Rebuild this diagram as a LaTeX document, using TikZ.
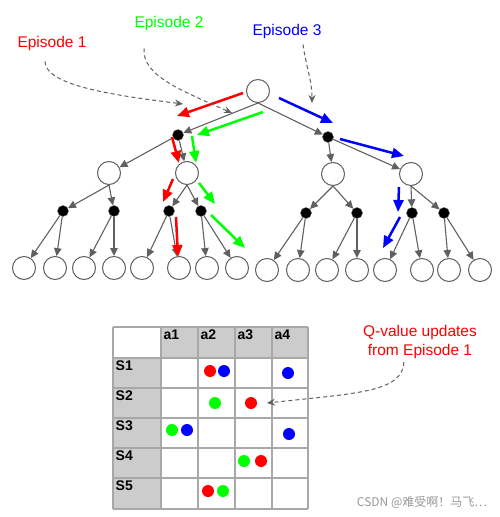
\documentclass[tikz,border=0pt]{standalone}
\usepackage{fontspec}
\setmainfont{Liberation Sans}
\newfontfamily\cjk{Noto Sans CJK SC}
\usetikzlibrary{arrows.meta}
\definecolor{edgegray}{HTML}{606060}
\definecolor{cellgray}{HTML}{CCCCCC}
\definecolor{gridgray}{HTML}{A8A8A8}
\definecolor{epred}{HTML}{FF0000}
\definecolor{epgreen}{HTML}{00FF00}
\definecolor{epblue}{HTML}{0000FF}

\begin{document}
\begin{tikzpicture}[x=1pt,y=-1pt,
    st/.style={circle,draw=edgegray,line width=1pt,fill=white,minimum size=23pt,inner sep=0pt},
    ac/.style={circle,draw=edgegray,fill=black,minimum size=11pt,inner sep=0pt},
    tr/.style={draw=edgegray,line width=1.1pt,-{Triangle[length=8pt,width=7.5pt]}},
    ep/.style={draw=#1,line width=2.5pt,-{Triangle[length=12pt,width=10pt]}},
    note/.style={draw=edgegray,line width=1pt,dash pattern=on 4pt off 3pt,-{Stealth[length=8pt,width=7pt]}},
    lab/.style={text=#1,inner sep=0pt,font=\fontsize{15.5}{19}\selectfont},
    hd/.style={anchor=north west,inner sep=2.5pt,font=\bfseries\fontsize{14}{16}\selectfont},
    qd/.style={circle,fill=#1,inner sep=0pt,minimum size=12pt}]
    \useasboundingbox (0,0) rectangle (500,517);

    % search tree
    \node[st] (r)  at (258,91)  {};
    \node[ac] (b1) at (178,135) {};
    \node[ac] (b2) at (328,137) {};
    \node[st] (s1) at (109,173) {};
    \node[st] (s2) at (187,173) {};
    \node[st] (s3) at (333,174) {};
    \node[st] (s4) at (411,174) {};
    \node[ac] (d1) at (63,211)  {};
    \node[ac] (d2) at (114,211) {};
    \node[ac] (d3) at (169,211) {};
    \node[ac] (d4) at (201,211) {};
    \node[ac] (d5) at (306,213) {};
    \node[ac] (d6) at (357,213) {};
    \node[ac] (d7) at (412,213) {};
    \node[ac] (d8) at (444,213) {};
    \node[st] (l1)  at (24,268)  {};
    \node[st] (l2)  at (55,268)  {};
    \node[st] (l3)  at (84,268)  {};
    \node[st] (l4)  at (114,268) {};
    \node[st] (l5)  at (142,268) {};
    \node[st] (l6)  at (179,268) {};
    \node[st] (l7)  at (207,268) {};
    \node[st] (l8)  at (237,268) {};
    \node[st] (l9)  at (267,270) {};
    \node[st] (l10) at (298,270) {};
    \node[st] (l11) at (327,270) {};
    \node[st] (l12) at (357,270) {};
    \node[st] (l13) at (385,270) {};
    \node[st] (l14) at (422,270) {};
    \node[st] (l15) at (449,270) {};
    \node[st] (l16) at (480,270) {};

    \path (r.south) edge[tr] (b1) edge[tr] (b2);
    \path (b1) edge[tr] (s1) edge[tr] (s2);
    \path (b2) edge[tr] (s3) edge[tr] (s4);
    \path (s1.south) edge[tr] (d1) edge[tr] (d2);
    \path (s2.south) edge[tr] (d3) edge[tr] (d4);
    \path (s3.south) edge[tr] (d5) edge[tr] (d6);
    \path (s4.south) edge[tr] (d7) edge[tr] (d8);
    \path (d1) edge[tr] (l1)  edge[tr] (l2);
    \path (d2) edge[tr] (l3)  edge[tr] (l4);
    \path (d3) edge[tr] (l5)  edge[tr] (l6);
    \path (d4) edge[tr] (l7)  edge[tr] (l8);
    \path (d5) edge[tr] (l9)  edge[tr] (l10);
    \path (d6) edge[tr] (l11) edge[tr] (l12);
    \path (d7) edge[tr] (l13) edge[tr] (l14);
    \path (d8) edge[tr] (l15) edge[tr] (l16);

    % episode paths
    \coordinate (p1a) at (243,93);  \coordinate (p1b) at (177,116);
    \coordinate (p2a) at (172,137); \coordinate (p2b) at (179,163);
    \coordinate (p3a) at (173,179); \coordinate (p3b) at (163,202);
    \coordinate (p4a) at (176,217); \coordinate (p4b) at (178,257);
    \coordinate (g1a) at (263,112); \coordinate (g1b) at (197,135);
    \coordinate (g2a) at (192,136); \coordinate (g2b) at (196,163);
    \coordinate (g3a) at (199,183); \coordinate (g3b) at (215,204);
    \coordinate (g4a) at (211,215); \coordinate (g4b) at (245,248);
    \coordinate (u1a) at (279,98);  \coordinate (u1b) at (333,123);
    \coordinate (u2a) at (340,139); \coordinate (u2b) at (404,156);
    \coordinate (u3a) at (399,187); \coordinate (u3b) at (398,212);
    \coordinate (u4a) at (400,217); \coordinate (u4b) at (383,248);

    \draw [ep=epred] (p1a) -- (p1b);
    \draw [ep=epred] (p2a) -- (p2b);
    \draw [ep=epred] (p3a) -- (p3b);
    \draw [ep=epred] (p4a) -- (p4b);
    \draw [ep=epgreen] (g1a) -- (g1b);
    \draw [ep=epgreen] (g2a) -- (g2b);
    \draw [ep=epgreen] (g3a) -- (g3b);
    \draw [ep=epgreen] (g4a) -- (g4b);
    \draw [ep=epblue] (u1a) -- (u1b);
    \draw [ep=epblue] (u2a) -- (u2b);
    \draw [ep=epblue] (u3a) -- (u3b);
    \draw [ep=epblue] (u4a) -- (u4b);

    % labels
    \node[lab=epred]   (ep1) at (52,43)  {Episode 1};
    \node[lab=epgreen] (ep2) at (169,23) {Episode 2};
    \node[lab=epblue]  (ep3) at (287,31) {Episode 3};
    \coordinate (n1) at (183,104);
    \coordinate (n2) at (232,113);
    \coordinate (n3) at (312,103);
    \draw [note] ([shift={(-7,11)}]ep1.south) .. controls +(0,25) and +(-63,-8) .. (n1);
    \draw [note] ([shift={(-25,18)}]ep2.south) .. controls +(-2,27) and +(-52,-23) .. (n2);
    \draw [note] ([shift={(16,6)}]ep3.south) .. controls +(3,22) and +(0,-23) .. (n3);

    % Q table
    \fill [cellgray] (161,327) rectangle (308,358);
    \fill [cellgray] (113,358) rectangle (161,509);
    \draw [gridgray,line width=1.2pt]
        (113,327) -- (113,509) (161,327) -- (161,509) (198,327) -- (198,509)
        (235,327) -- (235,509) (272,327) -- (272,509) (308,327) -- (308,509)
        (113,327) -- (308,327) (113,358) -- (308,358) (113,388) -- (308,388)
        (113,418) -- (308,418) (113,448) -- (308,448) (113,478) -- (308,478)
        (113,509) -- (308,509);
    \node[hd] (a1) at (161,327) {a1};
    \node[hd] (a2) at (198,327) {a2};
    \node[hd] (a3) at (235,327) {a3};
    \node[hd] (a4) at (272,327) {a4};
    \node[hd] (S1) at (113,358) {S1};
    \node[hd] (S2) at (113,388) {S2};
    \node[hd] (S3) at (113,418) {S3};
    \node[hd] (S4) at (113,448) {S4};
    \node[hd] (S5) at (113,478) {S5};

    \node[qd=epred]   (q1) at (210,371) {};
    \node[qd=epblue]  (q2) at (224,371) {};
    \node[qd=epblue]  (q3) at (288,373) {};
    \node[qd=epgreen] (q4) at (215,403) {};
    \node[qd=epred]   (q5) at (251,403) {};
    \node[qd=epgreen] (q6) at (172,430) {};
    \node[qd=epblue]  (q7) at (187,430) {};
    \node[qd=epblue]  (q8) at (289,434) {};
    \node[qd=epgreen] (q9) at (244,461) {};
    \node[qd=epred]   (q10) at (261,461) {};
    \node[qd=epred]   (q11) at (208,491) {};
    \node[qd=epgreen] (q12) at (223,491) {};

    \node[lab=epred,align=center] (qv) at (420,342) {Q-value updates\\from Episode 1};
    \coordinate (n4) at (267,403);
    \draw [note] ([shift={(-16,3)}]qv.south) .. controls +(-2,30) and +(93,-10) .. (n4);

    \node[text=gridgray!90!black,font=\cjk\fontsize{12}{14}\selectfont] (wm) at (422,502) {CSDN @难受啊！马飞…};
\end{tikzpicture}
\end{document}
